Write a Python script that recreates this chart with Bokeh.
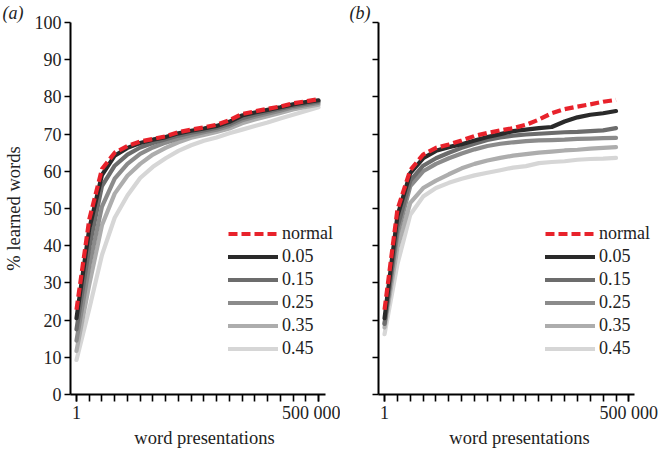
from bokeh.plotting import figure
from bokeh.models import (Range1d, FixedTicker, Legend, LegendItem,
                          CustomJSTickFormatter)
from bokeh.layouts import row
from bokeh.embed import file_html
from bokeh.resources import INLINE

# ---------------- data ----------------
WORD_PRESENTATIONS = [1, 2, 4, 8, 16, 32, 64, 128, 256, 512, 1024, 2048, 4096,
                      8192, 16384, 32768, 65536, 131072, 262144, 524288]
X_TICK_VALUES = [1, 524288]
X_TICK_LABELS = ["1", "500 000"]
Y_TICKS = [0, 10, 20, 30, 40, 50, 60, 70, 80, 90, 100]
SERIES_NAMES = ["normal", "0.05", "0.15", "0.25", "0.35", "0.45"]
X_TITLE = "word presentations"
Y_TITLE = "% learned words"

# panel (a)
A_NORMAL = [22.8, 47.0, 60.6, 65.0, 66.8, 68.0, 68.7, 69.4, 70.5, 71.2, 71.8, 72.5, 73.7, 75.4, 76.1, 76.8, 77.4, 78.3, 78.8, 79.4]
A_005 = [20.5, 44.5, 59.0, 64.2, 66.3, 67.6, 68.5, 69.2, 70.2, 70.9, 71.5, 72.2, 73.3, 75.0, 75.8, 76.5, 77.2, 78.0, 78.6, 79.1]
A_015 = [17.5, 39.5, 56.0, 61.5, 64.5, 66.4, 67.6, 68.6, 69.6, 70.4, 71.0, 71.7, 72.7, 74.3, 75.2, 76.0, 76.8, 77.6, 78.2, 78.8]
A_025 = [14.5, 34.5, 50.5, 58.0, 62.0, 64.7, 66.4, 67.7, 68.8, 69.7, 70.5, 71.2, 72.2, 73.7, 74.7, 75.5, 76.3, 77.2, 77.8, 78.4]
A_035 = [11.7, 29.5, 45.5, 54.0, 58.8, 62.0, 64.5, 66.3, 67.8, 69.0, 69.8, 70.6, 71.5, 72.9, 73.9, 74.8, 75.7, 76.6, 77.3, 77.9]
A_045 = [9.3, 23.0, 37.5, 47.5, 53.5, 58.2, 61.2, 63.5, 65.5, 67.0, 68.2, 69.1, 70.2, 71.2, 72.2, 73.1, 74.2, 75.2, 76.2, 77.2]

# panel (b)
B_NORMAL = [22.8, 49.7, 60.3, 64.5, 66.3, 67.2, 68.3, 69.5, 70.3, 71.0, 71.6, 72.5, 73.9, 75.6, 76.7, 77.4, 78.0, 78.7, 79.2]
B_005 = [20.5, 48.0, 59.5, 63.5, 65.5, 66.5, 67.3, 68.3, 69.2, 70.0, 70.8, 71.2, 71.6, 71.9, 73.4, 74.5, 75.2, 75.6, 76.2]
B_015 = [19.0, 45.0, 57.5, 61.5, 63.5, 65.0, 66.3, 67.4, 68.4, 69.1, 69.6, 69.9, 70.1, 70.3, 70.5, 70.6, 70.8, 71.0, 71.6]
B_025 = [19.0, 43.0, 56.0, 60.0, 62.0, 63.5, 64.8, 65.9, 66.8, 67.4, 67.8, 68.1, 68.3, 68.4, 68.5, 68.7, 68.8, 68.9, 69.0]
B_035 = [18.0, 39.5, 51.5, 55.5, 57.5, 59.2, 60.8, 62.0, 62.9, 63.6, 64.2, 64.6, 65.0, 65.3, 65.6, 65.8, 66.1, 66.3, 66.5]
B_045 = [16.2, 35.0, 48.3, 53.2, 55.5, 56.9, 58.0, 58.9, 59.6, 60.3, 61.0, 61.4, 62.2, 62.5, 62.7, 63.1, 63.3, 63.4, 63.6]

# ---------------- style ----------------
FONT = "Liberation Serif"
TEXT_COLOR = "#222222"
COLORS = ["#e8222b", "#2a2a2a", "#6c6c6c", "#8b8b8b", "#adadad", "#d6d6d6"]
HEIGHT = 450


def make_panel(series, panel_label, show_y_labels, width, min_left, min_right,
               x_axis_hi, x_frame_hi, legend_x, title_offset):
    x_lo = 2 ** -0.47
    p = figure(width=width, height=HEIGHT, x_axis_type="log",
               x_range=Range1d(x_lo, 2 ** x_frame_hi), y_range=Range1d(0, 100),
               output_backend="svg", toolbar_location=None,
               min_border_left=min_left, min_border_right=min_right,
               min_border_top=0, min_border_bottom=0)
    p.outline_line_color = None
    p.grid.visible = False
    p.background_fill_color = "white"
    p.border_fill_color = "white"

    # panel label as the title
    p.title.text = panel_label
    p.title.text_font = FONT
    p.title.text_font_size = "18px"
    p.title.text_font_style = "italic"
    p.title.text_color = TEXT_COLOR
    p.title.align = "left"
    p.title.offset = title_offset
    p.title.standoff = 0
    p.title.text_line_height = 1.0

    renderers = []
    for name, ys, color in zip(SERIES_NAMES, series, COLORS):
        xs = WORD_PRESENTATIONS[:len(ys)]
        if name == "normal":
            r = p.line(xs, ys, line_color=color, line_width=4.2, line_dash="9 4")
        else:
            r = p.line(xs, ys, line_color=color, line_width=4.2, line_cap="round",
                       line_join="round")
        renderers.append(r)
    p.renderers = list(reversed(renderers))

    # x axis
    xa = p.xaxis[0]
    xa.bounds = (x_lo, 2 ** x_axis_hi)
    xa.ticker = FixedTicker(ticks=X_TICK_VALUES, minor_ticks=WORD_PRESENTATIONS)
    xa.formatter = CustomJSTickFormatter(
        args=dict(vals=X_TICK_VALUES, labels=X_TICK_LABELS),
        code="const i = vals.indexOf(tick); return i >= 0 ? labels[i] : '';")
    xa.axis_label = X_TITLE
    # y axis
    ya = p.yaxis[0]
    ya.ticker = FixedTicker(ticks=Y_TICKS)
    if show_y_labels:
        ya.axis_label = Y_TITLE
    else:
        ya.formatter = CustomJSTickFormatter(code="return '';")

    for ax in (xa, ya):
        ax.axis_line_width = 2
        ax.axis_line_color = "black"
        ax.major_tick_line_width = 1.6
        ax.major_tick_line_color = "black"
        ax.minor_tick_line_width = 1.6
        ax.minor_tick_line_color = "black"
        ax.major_tick_in = 0
        ax.minor_tick_in = 0
        ax.major_label_text_font = FONT
        ax.major_label_text_font_size = "18px"
        ax.major_label_text_color = TEXT_COLOR
        ax.major_label_text_line_height = 1.0
        ax.axis_label_text_font = FONT
        ax.axis_label_text_font_size = "18.5px"
        ax.axis_label_text_font_style = "normal"
        ax.axis_label_text_color = TEXT_COLOR
        ax.axis_label_text_line_height = 1.0
    xa.major_tick_out = 7
    xa.minor_tick_out = 7
    xa.major_label_standoff = 1
    xa.axis_label_standoff = 2
    ya.major_tick_out = 6
    ya.minor_tick_out = 0
    ya.major_label_standoff = 3
    ya.axis_label_standoff = 8

    legend = Legend(items=[LegendItem(label=n, renderers=[r])
                           for n, r in zip(SERIES_NAMES, renderers)],
                    location=(legend_x, 34), orientation="vertical",
                    glyph_width=50, glyph_height=23, label_height=23,
                    label_width=56,
                    spacing=0, padding=0, margin=0, label_standoff=4,
                    border_line_color=None, background_fill_alpha=0,
                    label_text_font=FONT, label_text_font_size="18px",
                    label_text_color=TEXT_COLOR)
    p.add_layout(legend, "center")
    return p


pa = make_panel([A_NORMAL, A_005, A_015, A_025, A_035, A_045], "(a)", True,
                width=340, min_left=67, min_right=2, x_axis_hi=19.55,
                x_frame_hi=20.57, legend_x=158, title_offset=-68)
pb = make_panel([B_NORMAL, B_005, B_015, B_025, B_035, B_045], "(b)", False,
                width=325, min_left=38, min_right=5, x_axis_hi=19.42,
                x_frame_hi=21.46, legend_x=167, title_offset=-29)

layout = row(pa, pb)
open("out.html", "w").write(file_html(layout, INLINE))
